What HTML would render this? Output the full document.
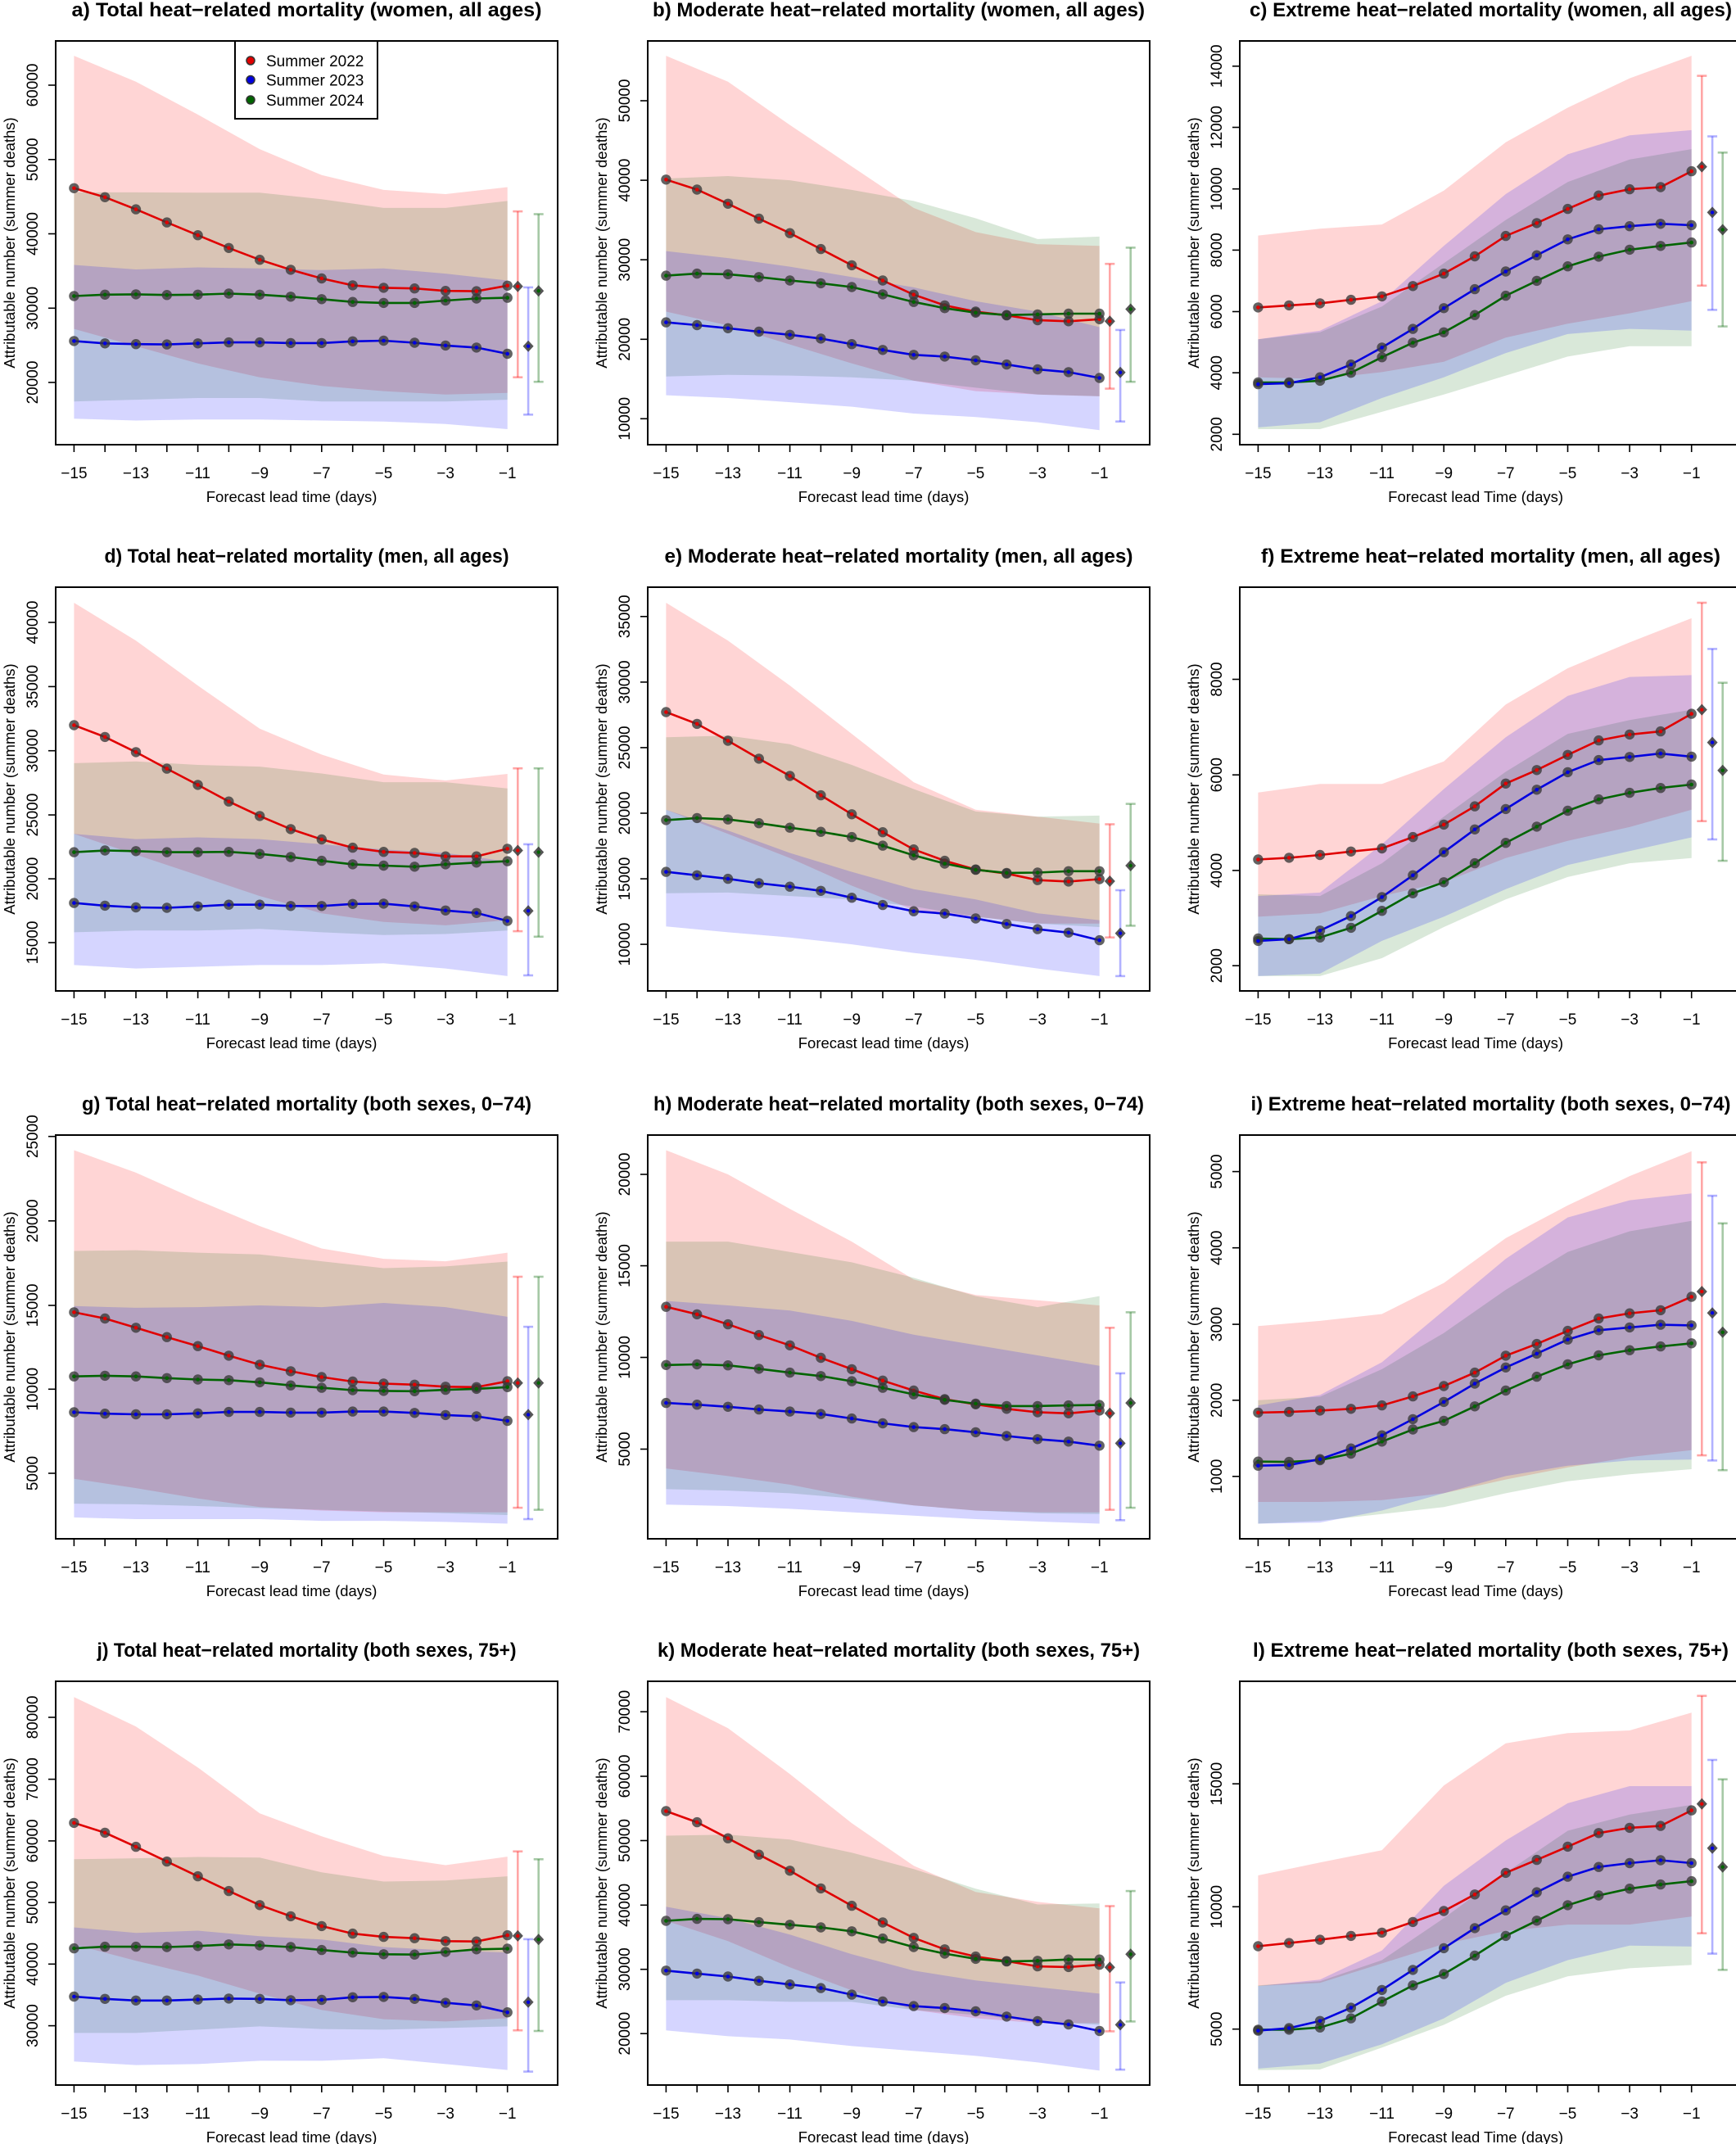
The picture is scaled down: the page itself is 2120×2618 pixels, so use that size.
<!DOCTYPE html>
<html><head><meta charset="utf-8">
<style>
html,body{margin:0;padding:0;background:#fff;}
body{width:2120px;height:2618px;overflow:hidden;}
svg{display:block;}
text{font-family:"Liberation Sans",Arial,sans-serif;fill:#000;}
</style></head>
<body>
<svg id="s" xmlns="http://www.w3.org/2000/svg" width="2120" height="2618" viewBox="0 0 2120 2618"></svg>
<script>
var P=[
{t:"a) Total heat\u2212related mortality (women, all ages)",tl:574,col:0,row:0,zt:117,zb:1285,xl:"Forecast lead time (days)",
ticks:[["60000",245],["50000",460],["40000",675],["30000",890],["20000",1105]],
R:[543,569,604,642,679,716,750,779,804,824,831,833,840,841,825],
G:[855,851,850,852,851,848,851,857,864,872,875,875,868,862,860],
B:[985,992,994,995,992,989,989,991,991,986,984,990,998,1004,1022],
Ru:[160,235,330,430,505,548,560,540],Rl:[950,1000,1050,1090,1115,1130,1140,1135],
Gu:[555,555,556,556,575,600,600,580],Gl:[1160,1155,1150,1150,1160,1160,1160,1155],
Bu:[765,778,772,775,780,775,790,810],Bl:[1210,1215,1212,1212,1215,1218,1225,1240],
E:[[610,1090,827],[830,1198,1000],[618,1103,840]],legend:true},
{t:"b) Moderate heat\u2212related mortality (women, all ages)",tl:601,col:1,row:0,zt:117,zb:1285,xl:"Forecast lead time (days)",
ticks:[["50000",290],["40000",520],["30000",750],["20000",980],["10000",1210]],
R:[518,547,588,631,673,719,766,810,851,882,900,911,925,928,922],
G:[796,790,792,800,810,818,829,850,872,890,903,910,908,906,906],
B:[931,939,948,958,967,978,994,1011,1025,1030,1041,1053,1067,1075,1092],
Ru:[160,235,360,480,600,670,705,710],Rl:[900,940,995,1050,1100,1130,1140,1145],
Gu:[515,508,520,548,580,630,690,683],Gl:[1088,1083,1085,1090,1100,1120,1140,1145],
Bu:[725,745,770,800,830,870,900,945],Bl:[1142,1150,1162,1175,1195,1205,1220,1243],
E:[[762,1123,928],[953,1218,1076],[715,1103,893]]},
{t:"c) Extreme heat\u2212related mortality (women, all ages)",tl:589,col:2,row:0,zt:117,zb:1285,xl:"Forecast lead Time (days)",
ticks:[["14000",190],["12000",367],["10000",545],["8000",722],["6000",900],["4000",1077],["2000",1255]],
R:[888,882,876,866,856,826,790,740,681,644,603,564,546,540,494],
G:[1105,1105,1100,1077,1032,990,960,910,854,811,769,741,721,710,700],
B:[1110,1107,1090,1053,1004,950,890,835,784,737,691,662,653,646,650],
Ru:[680,660,648,550,410,310,225,160],Rl:[1090,1095,1075,1045,975,935,905,870],
Gu:[980,960,885,760,635,525,460,430],Gl:[1240,1240,1190,1140,1085,1030,1000,1000],
Bu:[980,955,870,710,560,445,390,375],Bl:[1235,1220,1150,1090,1020,965,950,955],
E:[[218,825,481],[393,895,613],[440,943,663]]},
{t:"d) Total heat\u2212related mortality (men, all ages)",tl:494,col:0,row:1,zt:135,zb:1305,xl:"Forecast lead time (days)",
ticks:[["40000",237],["35000",423],["30000",609],["25000",795],["20000",980],["15000",1165]],
R:[535,569,613,661,708,756,798,836,866,890,902,905,915,915,893],
G:[903,898,900,903,903,902,908,917,928,938,942,945,938,933,929],
B:[1050,1058,1063,1064,1060,1055,1055,1059,1059,1053,1052,1060,1072,1079,1102],
Ru:[180,290,420,545,620,678,695,676],Rl:[850,910,970,1030,1080,1105,1115,1100],
Gu:[645,640,650,655,675,700,700,718],Gl:[1135,1130,1130,1125,1135,1143,1140,1130],
Bu:[850,865,860,865,880,895,905,930],Bl:[1230,1240,1235,1230,1230,1225,1240,1262],
E:[[660,1132,898],[880,1260,1073],[660,1148,903]]},
{t:"e) Moderate heat\u2212related mortality (men, all ages)",tl:572,col:1,row:1,zt:135,zb:1305,xl:"Forecast lead time (days)",
ticks:[["35000",220],["30000",410],["25000",600],["20000",790],["15000",980],["10000",1170]],
R:[497,531,580,632,682,738,793,845,895,928,953,965,984,988,981],
G:[810,804,808,819,832,844,859,884,912,936,954,963,962,958,958],
B:[960,970,980,993,1003,1015,1035,1056,1074,1081,1095,1111,1126,1136,1158],
Ru:[180,290,420,560,700,780,800,820],Rl:[780,850,920,1000,1070,1090,1110,1110],
Gu:[570,565,590,650,720,785,800,797],Gl:[1022,1020,1030,1040,1060,1090,1110,1120],
Bu:[780,840,905,960,1010,1040,1080,1100],Bl:[1118,1135,1150,1170,1195,1215,1240,1262],
E:[[822,1150,987],[1013,1262,1138],[763,1116,942]]},
{t:"f) Extreme heat\u2212related mortality (men, all ages)",tl:561,col:2,row:1,zt:135,zb:1305,xl:"Forecast lead Time (days)",
ticks:[["8000",402],["6000",679],["4000",956],["2000",1232]],
R:[924,919,911,901,892,859,823,770,704,665,621,579,562,553,502],
G:[1153,1155,1150,1122,1073,1022,990,935,876,829,783,750,731,717,707],
B:[1160,1155,1130,1088,1033,970,903,837,778,722,671,636,627,617,626],
Ru:[730,705,705,640,475,370,295,225],Rl:[1090,1080,1030,990,920,870,830,780],
Gu:[1025,1030,935,800,670,560,520,490],Gl:[1262,1262,1210,1120,1040,975,935,920],
Bu:[1030,1020,880,720,570,450,395,390],Bl:[1262,1255,1160,1090,1010,940,900,860],
E:[[180,813,490],[314,866,585],[412,928,666]]},
{t:"g) Total heat\u2212related mortality (both sexes, 0\u221274)",tl:549,col:0,row:2,zt:131,zb:1302,xl:"Forecast lead time (days)",
ticks:[["25000",135],["20000",380],["15000",625],["10000",868],["5000",1112]],
R:[645,663,690,717,743,771,797,816,833,846,852,855,861,862,845],
G:[831,829,831,836,840,842,848,857,864,871,873,874,870,867,862],
B:[935,939,941,941,938,934,934,936,936,933,933,937,943,947,960],
Ru:[175,240,320,395,460,490,497,472],Rl:[1128,1155,1185,1210,1220,1225,1225,1225],
Gu:[467,465,472,477,497,517,512,498],Gl:[1200,1202,1207,1213,1218,1223,1228,1233],
Bu:[627,632,630,625,630,618,630,658],Bl:[1240,1245,1245,1245,1250,1250,1253,1258],
E:[[542,1212,850],[687,1245,942],[542,1218,850]]},
{t:"h) Moderate heat\u2212related mortality (both sexes, 0\u221274)",tl:599,col:1,row:2,zt:131,zb:1302,xl:"Forecast lead time (days)",
ticks:[["20000",245],["15000",510],["10000",776],["5000",1042]],
R:[629,651,680,711,741,777,810,843,872,897,912,925,935,938,930],
G:[798,796,799,809,820,830,845,864,883,899,910,917,917,915,914],
B:[908,913,919,927,933,940,953,967,978,984,993,1004,1013,1020,1032],
Ru:[175,245,345,440,550,595,610,625],Rl:[1098,1120,1145,1180,1205,1220,1225,1225],
Gu:[440,440,470,500,545,598,630,598],Gl:[1158,1162,1170,1185,1205,1220,1228,1230],
Bu:[612,625,640,670,710,740,770,800],Bl:[1203,1207,1215,1225,1235,1245,1252,1258],
E:[[690,1218,938],[822,1248,1025],[645,1212,908]]},
{t:"i) Extreme heat\u2212related mortality (both sexes, 0\u221274)",tl:586,col:2,row:2,zt:131,zb:1302,xl:"Forecast lead Time (days)",
ticks:[["5000",237],["4000",458],["3000",680],["2000",900],["1000",1121]],
R:[936,934,930,925,915,889,859,820,771,737,699,663,648,639,600],
G:[1078,1079,1074,1055,1020,985,960,918,872,832,796,770,755,744,735],
B:[1090,1088,1071,1040,1002,955,905,852,805,765,724,697,689,681,683],
Ru:[685,670,650,560,430,335,250,178],Rl:[1195,1195,1190,1170,1130,1095,1065,1045],
Gu:[900,890,810,705,580,470,410,380],Gl:[1258,1250,1230,1210,1170,1135,1115,1100],
Bu:[915,885,790,640,490,370,320,300],Bl:[1258,1255,1220,1170,1120,1090,1075,1072],
E:[[210,1060,585],[307,1075,647],[387,1103,703]]},
{t:"j) Total heat\u2212related mortality (both sexes, 75+)",tl:512,col:0,row:3,zt:157,zb:1389,xl:"Forecast lead time (days)",
ticks:[["80000",267],["70000",456],["60000",644],["50000",832],["40000",1020],["30000",1208]],
R:[589,619,662,707,752,797,840,874,904,927,937,941,950,951,932],
G:[972,967,967,968,965,960,963,968,977,985,990,991,983,975,973],
B:[1119,1126,1131,1131,1128,1125,1126,1130,1129,1121,1120,1126,1138,1146,1167],
Ru:[205,295,420,560,630,690,718,692],Rl:[960,1010,1055,1110,1160,1188,1195,1185],
Gu:[700,697,693,695,740,768,765,752],Gl:[1230,1230,1220,1210,1218,1220,1215,1210],
Bu:[908,925,918,935,945,968,978,985],Bl:[1317,1328,1325,1315,1315,1307,1325,1343],
E:[[676,1222,934],[944,1348,1136],[700,1224,945]]},
{t:"k) Moderate heat\u2212related mortality (both sexes, 75+)",tl:589,col:1,row:3,zt:157,zb:1389,xl:"Forecast lead time (days)",
ticks:[["70000",250],["60000",447],["50000",643],["40000",840],["30000",1036],["20000",1232]],
R:[553,587,636,686,735,789,842,893,940,975,997,1011,1027,1029,1022],
G:[888,882,883,892,900,908,920,942,968,988,1004,1012,1010,1006,1006],
B:[1040,1049,1058,1071,1082,1093,1113,1134,1148,1154,1164,1180,1194,1204,1224],
Ru:[205,300,440,590,720,800,830,850],Rl:[888,950,1030,1100,1160,1185,1200,1200],
Gu:[628,625,640,680,730,790,838,835],Gl:[1130,1130,1135,1135,1160,1175,1195,1205],
Bu:[845,880,930,990,1040,1070,1090,1110],Bl:[1222,1240,1250,1270,1285,1300,1320,1345],
E:[[843,1225,1030],[1076,1342,1205],[797,1195,990]]},
{t:"l) Extreme heat\u2212related mortality (both sexes, 75+)",tl:581,col:2,row:3,zt:138,zb:1386,xl:"Forecast lead Time (days)",
ticks:[["15000",455],["10000",835],["5000",1213]],
R:[957,947,937,925,915,882,848,797,730,690,649,607,591,585,537],
G:[1215,1215,1208,1180,1128,1078,1043,986,925,878,830,800,779,766,756],
B:[1218,1210,1188,1147,1092,1030,963,901,846,790,742,712,700,691,700],
Ru:[738,698,660,460,330,298,290,235],Rl:[1080,1070,1010,950,910,890,890,865],
Gu:[1078,1065,1000,870,730,600,550,520],Gl:[1340,1338,1270,1200,1110,1050,1025,1015],
Bu:[1080,1060,970,770,630,515,462,462],Bl:[1335,1320,1260,1180,1070,1000,955,958],
E:[[183,917,517],[381,980,654],[441,1030,712]]}
];
var COLS=[68,791,1514], ROWS=[50,717,1386,2053], W=613, H=493;
var out=[];
function f(n){return n.toFixed(1);}
P.forEach(function(p){
  var L=COLS[p.col], T=ROWS[p.row];
  function Y(z){return T+(z-p.zt)/(p.zb-p.zt)*H;}
  function X(d){return L+W*(0.0365+(d+15)/14*0.8635);}
  function band(u,l,c){
    var pts=[],i;
    for(i=0;i<8;i++)pts.push(f(X(-15+2*i))+","+f(Y(u[i])));
    for(i=7;i>=0;i--)pts.push(f(X(-15+2*i))+","+f(Y(l[i])));
    out.push('<polygon points="'+pts.join(" ")+'" fill="'+c+'"/>');
  }
  out.push('<g>');
  band(p.Ru,p.Rl,"rgba(255,0,0,0.165)");
  band(p.Gu,p.Gl,"rgba(0,100,0,0.15)");
  band(p.Bu,p.Bl,"rgba(0,0,255,0.165)");
  var ser=[[p.R,"#e00000"],[p.G,"#006400"],[p.B,"#0000e0"]];
  ser.forEach(function(s){
    var pts=s[0].map(function(z,i){return f(X(-15+i))+","+f(Y(z));});
    out.push('<polyline points="'+pts.join(" ")+'" fill="none" stroke="'+s[1]+'" stroke-width="2.6"/>');
  });
  ser.forEach(function(s){
    s[0].forEach(function(z,i){
      var x=X(-15+i),y=Y(z);
      out.push('<circle cx="'+f(x)+'" cy="'+f(y)+'" r="6.2" fill="rgba(55,55,55,0.78)"/><circle cx="'+f(x)+'" cy="'+f(y)+'" r="2.3" fill="'+s[1]+'"/>');
    });
  });
  var ef=[0.9205,0.9414,0.962], ec=["rgba(255,0,0,0.35)","rgba(0,0,255,0.3)","rgba(0,100,0,0.35)"], dc=["#e00000","#0000e0","#006400"];
  p.E.forEach(function(e,k){
    var x=L+W*ef[k], y1=Y(e[0]), y2=Y(e[1]), yd=Y(e[2]);
    out.push('<g stroke="'+ec[k]+'" stroke-width="2.6" fill="none"><line x1="'+f(x)+'" y1="'+f(y1)+'" x2="'+f(x)+'" y2="'+f(y2)+'"/><line x1="'+f(x-6)+'" y1="'+f(y1)+'" x2="'+f(x+6)+'" y2="'+f(y1)+'"/><line x1="'+f(x-6)+'" y1="'+f(y2)+'" x2="'+f(x+6)+'" y2="'+f(y2)+'"/></g>');
    out.push('<polygon points="'+f(x)+','+f(yd-7)+' '+f(x+6.5)+','+f(yd)+' '+f(x)+','+f(yd+7)+' '+f(x-6.5)+','+f(yd)+'" fill="rgba(55,55,55,0.85)"/><circle cx="'+f(x)+'" cy="'+f(yd)+'" r="2.2" fill="'+dc[k]+'"/>');
  });
  out.push('<rect x="'+L+'" y="'+T+'" width="'+W+'" height="'+H+'" fill="none" stroke="#000" stroke-width="2"/>');
  for(var d=-15;d<=-1;d++){
    var x=X(d);
    out.push('<line x1="'+f(x)+'" y1="'+(T+H)+'" x2="'+f(x)+'" y2="'+(T+H+9)+'" stroke="#000" stroke-width="1.6"/>');
    if((d+15)%2==0)out.push('<text x="'+f(x)+'" y="'+(T+H+41)+'" font-size="19" text-anchor="middle">\u2212'+(-d)+'</text>');
  }
  out.push('<text x="'+(L+W*0.47)+'" y="'+(T+H+70)+'" font-size="18.5" text-anchor="middle">'+p.xl+'</text>');
  p.ticks.forEach(function(tk){
    var y=Y(tk[1]);
    out.push('<line x1="'+L+'" y1="'+f(y)+'" x2="'+(L-9)+'" y2="'+f(y)+'" stroke="#000" stroke-width="1.6"/>');
    out.push('<text transform="translate('+(L-22)+','+f(y)+') rotate(-90)" font-size="19" text-anchor="middle">'+tk[0]+'</text>');
  });
  out.push('<text transform="translate('+(L-50)+','+f(T+H/2)+') rotate(-90)" font-size="18.5" text-anchor="middle">Attributable number (summer deaths)</text>');
  out.push('<text x="'+(L+W/2)+'" y="'+(T-30)+'" font-size="24" font-weight="bold" text-anchor="middle" textLength="'+p.tl+'" lengthAdjust="spacingAndGlyphs">'+p.t+'</text>');
  if(p.legend){
    out.push('<rect x="287" y="50" width="174" height="95" fill="#fff" stroke="#000" stroke-width="2"/>');
    var lc=["#e00000","#0000e0","#006400"],ly=[74,97.5,122],ln=["Summer 2022","Summer 2023","Summer 2024"];
    for(var i=0;i<3;i++){
      out.push('<circle cx="306" cy="'+ly[i]+'" r="5" fill="'+lc[i]+'" stroke="#333" stroke-width="1.5"/>');
      out.push('<text x="325" y="'+(ly[i]+7)+'" font-size="19">'+ln[i]+'</text>');
    }
  }
  out.push('</g>');
});
document.getElementById("s").innerHTML=out.join("");
</script>
</body></html>
